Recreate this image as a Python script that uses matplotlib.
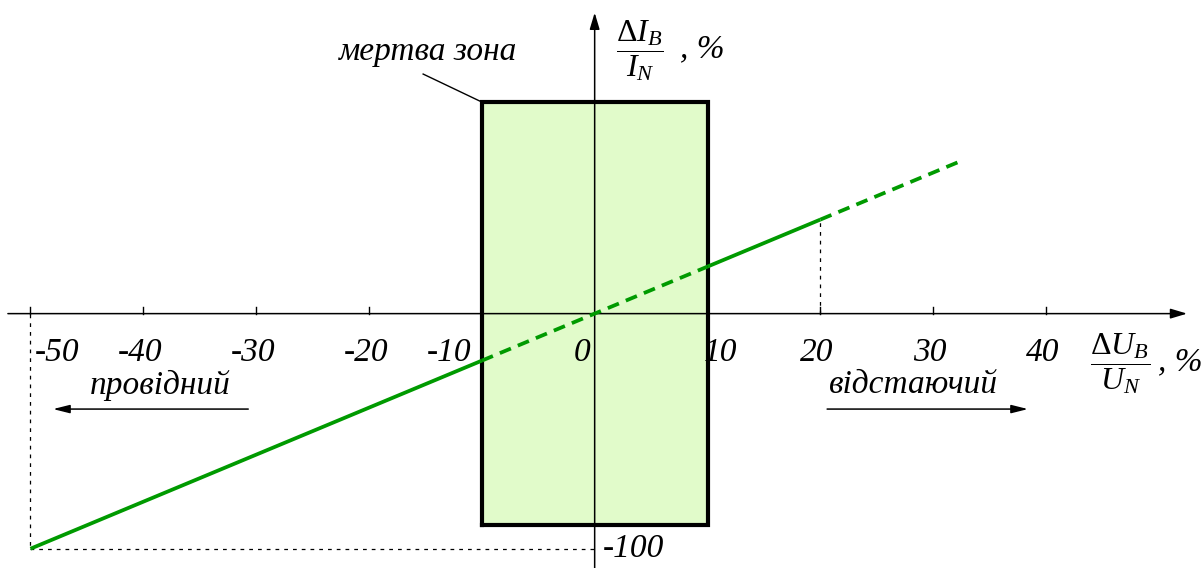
import matplotlib.pyplot as plt

plt.rcParams['font.family'] = ['Liberation Serif', 'DejaVu Serif']
plt.rcParams['mathtext.fontset'] = 'custom'
plt.rcParams['mathtext.rm'] = 'Liberation Serif'
plt.rcParams['mathtext.it'] = 'Liberation Serif:italic'

# характеристика: точки зламу лінії (суцільна / штрихова)
line_x = [-50, -10, 10, 20, 32.4]
line_y = [-100, -20, 20, 40, 64.8]
line_styles = ['-', '--', '-', '--']

# мертва зона
zone_x = [-10, 10]
zone_y = [-90, 90]

ticks = [-50, -40, -30, -20, -10, 0, 10, 20, 30, 40]
tick_labels = ['-50', '-40', '-30', '-20', '-10', '0', '10', '20', '30', '40']
y_tick = -100
y_tick_label = '-100'

green = '#009a00'
fig = plt.figure(figsize=(12.04, 5.68), dpi=100)
ax = fig.add_axes([0, 0, 1, 1])
ax.set_xlim(-52.7, 54.0)
ax.set_ylim(-108.2, 133.4)
ax.axis('off')

# прямокутник мертвої зони
ax.fill_between(zone_x, zone_y[0], zone_y[1], color='#e1fbca', zorder=1, lw=0)
ax.plot([zone_x[0], zone_x[1], zone_x[1], zone_x[0], zone_x[0]],
        [zone_y[0], zone_y[0], zone_y[1], zone_y[1], zone_y[0]],
        color='black', lw=3, zorder=4, solid_joinstyle='miter')

# осі зі стрілками
ax.annotate('', xy=(52.5, 0), xytext=(-52.0, 0),
            arrowprops=dict(arrowstyle='-|>,head_length=1.0,head_width=0.3', color='black', lw=1.1,
                            shrinkA=0, shrinkB=0), zorder=3)
ax.annotate('', xy=(0, 128.0), xytext=(0, -108.2),
            arrowprops=dict(arrowstyle='-|>,head_length=1.0,head_width=0.3', color='black', lw=1.1,
                            shrinkA=0, shrinkB=0), zorder=3)

# поділки та підписи
offsets = {-50: 2.4, -10: -2.9, 0: -1.1, 10: 1.2}
for t, lab in zip(ticks, tick_labels):
    if t != 0:
        ax.plot([t, t], [0, 3], color='black', lw=1.0, zorder=3)
    ax.text(t + offsets.get(t, -0.3), -16.8, lab, style='italic', fontsize=24,
            ha='center', va='center', zorder=6)
ax.text(0.75, y_tick, y_tick_label, style='italic', fontsize=24, ha='left', va='center')

# допоміжні пунктирні лінії
dot = dict(color='black', lw=0.9, ls=(0, (3, 4)), zorder=2)
ax.plot([line_x[0], line_x[0]], [0, line_y[0]], **dot)
ax.plot([line_x[0], 0], [line_y[0], line_y[0]], **dot)
ax.plot([line_x[3], line_x[3]], [0, line_y[3]], **dot)

# характеристика
for i, ls in enumerate(line_styles):
    ax.plot(line_x[i:i + 2], line_y[i:i + 2], color=green, lw=2.7,
            ls=ls if ls == '-' else (0, (3.2, 2.0)), zorder=5, solid_capstyle='butt')

# написи
ax.text(-14.8, 111.5, 'мертва зона', style='italic', fontsize=24, ha='center', va='center')
ax.plot([-15.2, zone_x[0]], [101.9, zone_y[1]], color='black', lw=1.0)

ax.text(-38.5, -30.4, 'провідний', style='italic', fontsize=24, ha='center', va='center')
ax.annotate('', xy=(-48.0, -40.6), xytext=(-30.7, -40.6),
            arrowprops=dict(arrowstyle='-|>,head_length=1.0,head_width=0.25', color='black', lw=1.1,
                            shrinkA=0, shrinkB=0))
ax.text(28.3, -30.4, 'відстаючий', style='italic', fontsize=24, ha='center', va='center')
ax.annotate('', xy=(38.4, -40.6), xytext=(20.6, -40.6),
            arrowprops=dict(arrowstyle='-|>,head_length=1.0,head_width=0.25', color='black', lw=1.1,
                            shrinkA=0, shrinkB=0))

# підписи осей
ax.text(4.0, 112.1, r'$\dfrac{\Delta I_B}{I_N}$', fontsize=23, ha='center', va='center')
ax.text(7.6, 109.1, ', %', style='italic', fontsize=24, ha='left', va='baseline')
ax.text(46.6, -21.1, r'$\dfrac{\Delta U_B}{U_N}$', fontsize=23, ha='center', va='center')
ax.text(49.9, -24.0, ', %', style='italic', fontsize=24, ha='left', va='baseline')

fig.savefig('out.png', dpi=100)
